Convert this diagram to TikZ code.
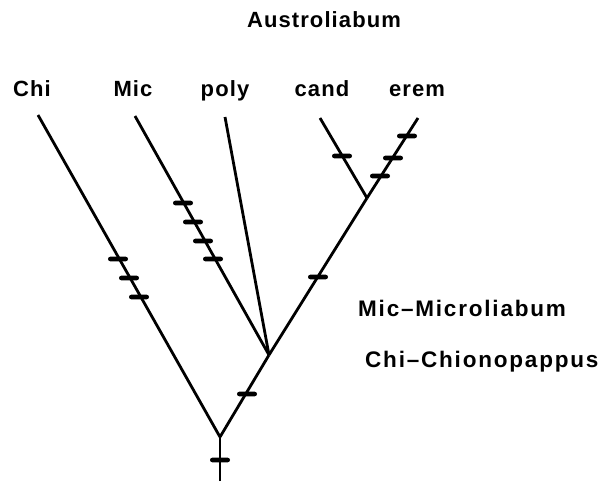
\documentclass[tikz,border=0pt]{standalone}
\usepackage{fontspec}
\setmainfont{Liberation Sans}[LetterSpace=8]
\newfontfamily\taxfont{Liberation Sans}[LetterSpace=5]
\begin{document}
\begin{tikzpicture}[x=1pt,y=-1pt,
  branch/.style={line width=2.8pt,line cap=butt},
  bar/.style={fill=black,draw=none,minimum width=20pt,minimum height=4.6pt,inner sep=0pt,rounded corners=2.3pt},
  taxon/.style={font=\taxfont\bfseries\fontsize{22}{26}\selectfont,anchor=base,inner sep=0pt},
  legend/.style={font=\bfseries\fontsize{22.5}{27}\selectfont,anchor=base west,inner sep=0pt}]
\useasboundingbox (0,0) rectangle (599,487);
% labels
\node[taxon] (aus) at (324,28) {Austroliabum};
\node[taxon] (lchi) at (32,96) {Chi};
\node[taxon] (lmic) at (133,96) {Mic};
\node[taxon] (lpoly) at (225,96) {poly};
\node[taxon] (lcand) at (322,96) {cand};
\node[taxon] (lerem) at (417,96) {erem};
\node[legend] (leg1) at (358,316) {Mic–Microliabum};
\node[legend] (leg2) at (365,367) {Chi–Chionopappus};
% tree points
\coordinate (base) at (220,481);
\coordinate (root) at (220,437);
\coordinate (n2) at (269,355);
\coordinate (n3) at (367,198);
\coordinate (tchi) at (38,115);
\coordinate (tmic) at (135,116);
\coordinate (tpoly) at (225,117);
\coordinate (tcand) at (320,118);
\coordinate (terem) at (418,118);
% branches
\draw[branch] (base) -- (root);
\draw[branch] (root) -- (tchi);
\draw[branch] (root) -- (n2);
\draw[branch] (n2) -- (n3);
\draw[branch] (n3) -- (terem);
\draw[branch] (n2) -- (tmic);
\draw[branch] (n2) -- (tpoly);
\draw[branch] (n3) -- (tcand);
% character bars
\node[bar] (b1) at (220,460) {};
\node[bar] (b2) at (247,394) {};
\node[bar] (b3) at (318,277) {};
\node[bar] (b4) at (380,176) {};
\node[bar] (b5) at (393,158) {};
\node[bar] (b6) at (407,136) {};
\node[bar] (b7) at (342,156) {};
\node[bar] (b8) at (118,259) {};
\node[bar] (b9) at (129,278) {};
\node[bar] (b10) at (139,297) {};
\node[bar] (b11) at (183,203) {};
\node[bar] (b12) at (193,222) {};
\node[bar] (b13) at (203,241) {};
\node[bar] (b14) at (213,259) {};
\end{tikzpicture}
\end{document}
